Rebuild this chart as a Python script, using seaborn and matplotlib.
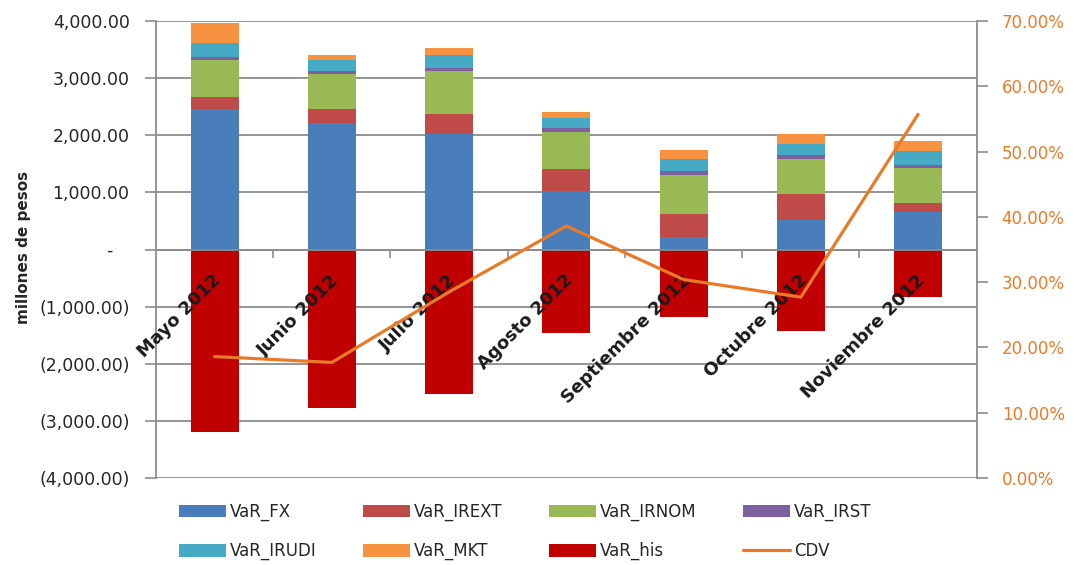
import numpy as np
import pandas as pd
import seaborn as sns
import matplotlib.pyplot as plt
from matplotlib.ticker import FuncFormatter
from matplotlib.patches import Patch
from matplotlib.lines import Line2D

# datos (millones de pesos)
meses = ["Mayo 2012", "Junio 2012", "Julio 2012", "Agosto 2012",
         "Septiembre 2012", "Octubre 2012", "Noviembre 2012"]
var_fx = [2464, 2207, 2014, 1021, 222, 525, 660]
var_irext = [210, 257, 350, 380, 396, 438, 146]
var_irnom = [636, 601, 753, 654, 690, 625, 625]
var_irst = [58, 58, 65, 64, 63, 63, 40]
var_irudi = [252, 187, 216, 187, 217, 188, 251]
var_mkt = [350, 93, 134, 99, 158, 187, 175]
var_his = [-3199, -2773, -2522, -1459, -1179, -1424, -835]
cdv = [0.186, 0.177, 0.285, 0.386, 0.304, 0.277, 0.557]

componentes = ["VaR_FX", "VaR_IREXT", "VaR_IRNOM", "VaR_IRST", "VaR_IRUDI", "VaR_MKT"]
colores = {"VaR_FX": "#4A7EBB", "VaR_IREXT": "#BE4B48", "VaR_IRNOM": "#98B954",
           "VaR_IRST": "#7D60A0", "VaR_IRUDI": "#46AAC5", "VaR_MKT": "#F69240",
           "VaR_his": "#C00000"}
naranja = "#E97B28"
gris = "#8C8C8C"

df = pd.DataFrame({"mes": meses, "VaR_FX": var_fx, "VaR_IREXT": var_irext,
                   "VaR_IRNOM": var_irnom, "VaR_IRST": var_irst,
                   "VaR_IRUDI": var_irudi, "VaR_MKT": var_mkt, "VaR_his": var_his})
acum = df[componentes].cumsum(axis=1)
acum["mes"] = df["mes"]

sns.set_theme(style="white")
plt.rcParams['font.family'] = ['DejaVu Sans']

fig = plt.figure(figsize=(10.76, 5.65), dpi=100)
ax = fig.add_axes([156 / 1076, 1 - 478 / 565, (976.7 - 156) / 1076, (478 - 21) / 565])

# barras apiladas: se dibuja el acumulado de arriba hacia abajo
for col in reversed(componentes):
    sns.barplot(data=acum, x="mes", y=col, color=colores[col], width=0.41,
                saturation=1, linewidth=0, errorbar=None, ax=ax)
sns.barplot(data=df, x="mes", y="VaR_his", color=colores["VaR_his"], width=0.41,
            saturation=1, linewidth=0, errorbar=None, ax=ax)

ax.set_ylim(-4000, 4000)
ax.set_yticks(range(-4000, 4001, 1000))


def fmt_pesos(v, pos):
    if v == 0:
        return "-   "
    if v < 0:
        return f"({abs(v):,.2f})"
    return f"{v:,.2f}"


ax.yaxis.set_major_formatter(FuncFormatter(fmt_pesos))
ax.yaxis.grid(True, color=gris, lw=1.3)
ax.set_axisbelow(True)
ax.set_xticks(np.arange(0.5, len(meses) - 1, 1))
ax.set_xticklabels([])
ax.set_xlabel("")
ax.set_ylabel("millones de pesos", fontsize=11, fontweight="bold")
ax.yaxis.set_label_coords(-0.152, 0.505)
ax.spines["top"].set_visible(False)
ax.spines["right"].set_visible(False)
ax.spines["bottom"].set_position(("data", 0))
for s in ["left", "bottom"]:
    ax.spines[s].set_color(gris)
    ax.spines[s].set_linewidth(1.3)
ax.tick_params(axis="y", length=8, width=1.2, color=gris, pad=11, labelsize=12.5,
               labelcolor="#262626", left=True)
ax.tick_params(axis="x", length=6, width=1.2, color=gris, direction="out", bottom=True)

for i, m in enumerate(meses):
    ax.text(i - 0.02, -380, m, rotation=45, rotation_mode="anchor", ha="right",
            va="top", fontsize=13, fontweight="bold", color="#1a1a1a")

# eje secundario CDV
ax2 = ax.twinx()
sns.lineplot(x=np.arange(len(meses)), y=cdv, color=naranja, lw=2.3, ax=ax2)
ax2.set_ylim(0, 0.7)
ax2.set_yticks(np.arange(0, 0.71, 0.1))
ax2.yaxis.set_major_formatter(FuncFormatter(lambda v, p: f"{v * 100:.2f}%"))
ax2.tick_params(axis="y", length=8, width=1.2, color=gris, pad=10, labelsize=12,
                labelcolor=naranja, right=True)
for s in ["top", "left", "bottom"]:
    ax2.spines[s].set_visible(False)
ax2.spines["right"].set_color(gris)
ax2.spines["right"].set_linewidth(1.3)
ax2.set_xlim(-0.5, len(meses) - 0.5)

# leyenda en orden por filas
h = {c: Patch(facecolor=colores[c], edgecolor="none") for c in colores}
h["CDV"] = Line2D([], [], color=naranja, lw=2.3)
orden = ["VaR_FX", "VaR_IRUDI", "VaR_IREXT", "VaR_MKT", "VaR_IRNOM", "VaR_his",
         "VaR_IRST", "CDV"]
fig.legend([h[k] for k in orden], orden, ncol=4, loc="upper left",
           bbox_to_anchor=(179 / 1076, 1 - 503 / 565), frameon=False, fontsize=12,
           handlelength=2.8, handleheight=0.78, handletextpad=0.25,
           columnspacing=2.8, labelspacing=1.25, borderpad=0, borderaxespad=0)

fig.savefig("out.png", dpi=100)
